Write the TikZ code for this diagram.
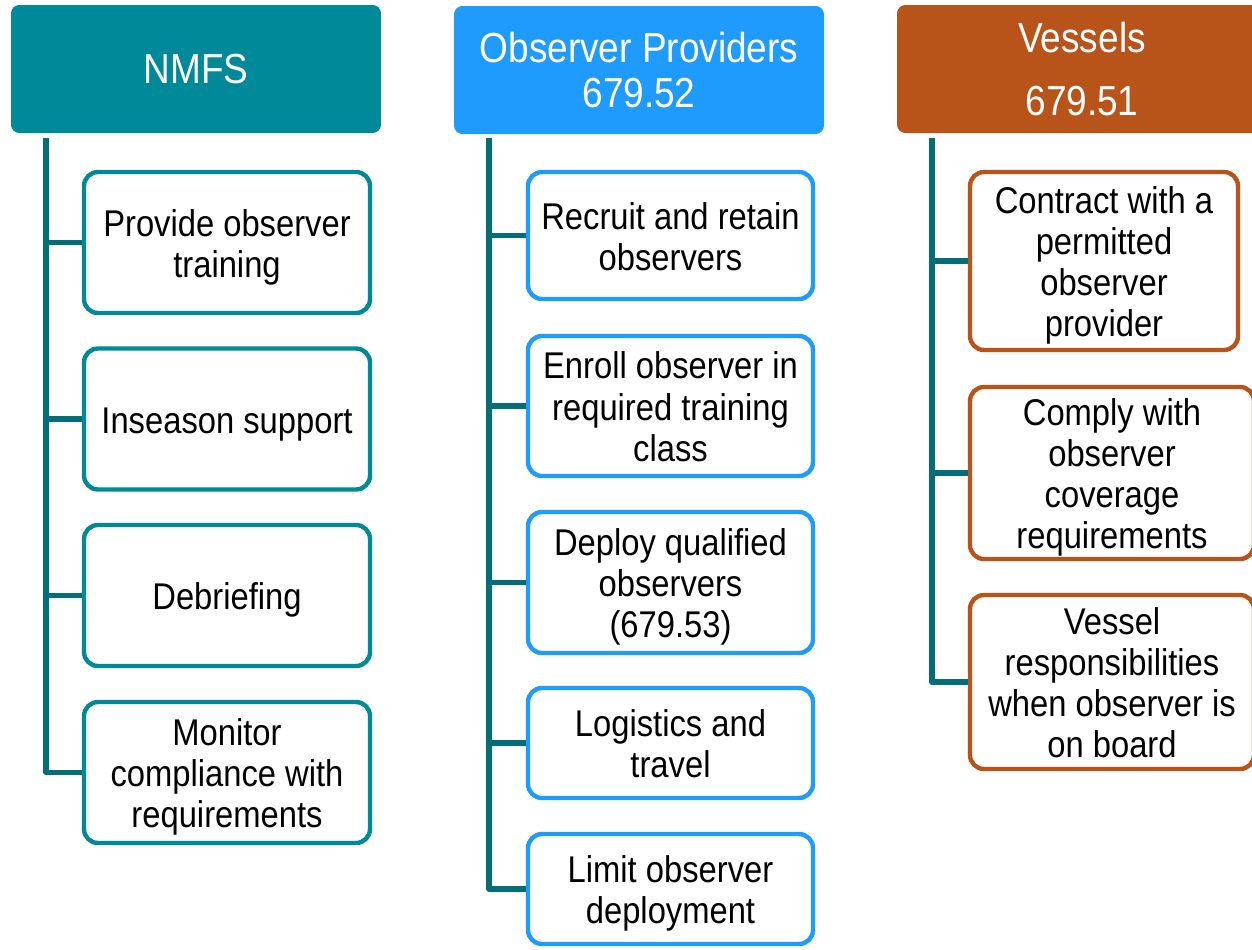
\documentclass[tikz,border=0pt]{standalone}
\usepackage{fontspec}
\setmainfont{Liberation Sans}[FakeStretch=0.88]
\definecolor{tealh}{RGB}{0,137,152}
\definecolor{linec}{RGB}{4,110,120}
\definecolor{blueh}{RGB}{30,155,252}
\definecolor{orangeh}{RGB}{184,83,25}
\newcommand{\topstr}{\rule{0pt}{18pt}}
\tikzset{
  hdr/.style={rectangle, rounded corners=4pt, fill=#1, draw=#1, line width=0.5pt,
    text=white, inner sep=0pt, minimum width=184.5pt, minimum height=63.5pt,
    align=center, font=\fontsize{21}{22.5}\selectfont},
  child/.style={rectangle, rounded corners=7pt, draw=#1, line width=2.2pt, fill=white,
    text=black, inner sep=0pt, align=center, font=\fontsize{18.6}{20.6}\selectfont,
    execute at end node={\rule[-3.9pt]{0pt}{3.9pt}}},
  conn/.style={draw=linec, line width=2.6pt, line join=round}
}
\begin{document}
\begin{tikzpicture}[x=0.5pt,y=-0.5pt]
\useasboundingbox (0,0) rectangle (1252,949);
\clip (0,0) rectangle (1252,949);
\fill[white] (0,0) rectangle (1252,949);

% headers
\node[hdr=tealh] (h1) at (196,69) {NMFS};
\node[hdr=blueh] (h2) at (639,70) {Observer Providers\\679.52};
\node[hdr=orangeh] (h3) at (1082,69) {Vessels\\[9pt]679.51};

% column 1
\begin{scope}[every node/.style={child=tealh, minimum width=143pt, minimum height=70.5pt}]
\node (a1) at (227,242.5) {\topstr Provide observer\\training};
\node (a2) at (227,419) {\topstr Inseason support};
\node (a3) at (227,595.5) {\topstr Debriefing};
\node (a4) at (227,772.5) {\topstr Monitor\\compliance with\\requirements};
\end{scope}

% column 2
\begin{scope}[every node/.style={child=blueh, minimum width=142.5pt}]
\node[minimum height=63.5pt] (b1) at (670.5,235.5) {\topstr Recruit and retain\\observers};
\node[minimum height=70pt] (b2) at (670.5,406) {\topstr Enroll observer in\\required training\\class};
\node[minimum height=70.5pt] (b3) at (670.5,582.5) {\topstr Deploy qualified\\observers\\(679.53)};
\node[minimum height=55pt] (b4) at (670.5,743) {\topstr Logistics and\\travel};
\node[minimum height=55pt] (b5) at (670.5,889) {\topstr Limit observer\\deployment};
\end{scope}

% column 3
\begin{scope}[every node/.style={child=orangeh}]
\node[minimum width=134pt, minimum height=89pt] (c1) at (1104,261) {\topstr Contract with a\\permitted\\observer\\provider};
\node[minimum width=142pt, minimum height=86pt] (c2) at (1112,473) {\topstr Comply with\\observer\\coverage\\requirements};
\node[minimum width=142pt, minimum height=87pt] (c3) at (1112,682) {\topstr Vessel\\responsibilities\\when observer is\\on board};
\end{scope}

% connectors
\coordinate (t1) at (46,138);
\coordinate (t2) at (489,138);
\coordinate (t3) at (932,138);
\path[conn] (t1) |- (a4.west);
\path[conn] (t1 |- a1.west) -- (a1.west);
\path[conn] (t1 |- a2.west) -- (a2.west);
\path[conn] (t1 |- a3.west) -- (a3.west);

\path[conn] (t2) |- (b5.west);
\path[conn] (t2 |- b1.west) -- (b1.west);
\path[conn] (t2 |- b2.west) -- (b2.west);
\path[conn] (t2 |- b3.west) -- (b3.west);
\path[conn] (t2 |- b4.west) -- (b4.west);

\path[conn] (t3) |- (c3.west);
\path[conn] (t3 |- c1.west) -- (c1.west);
\path[conn] (t3 |- c2.west) -- (c2.west);
\end{tikzpicture}
\end{document}
